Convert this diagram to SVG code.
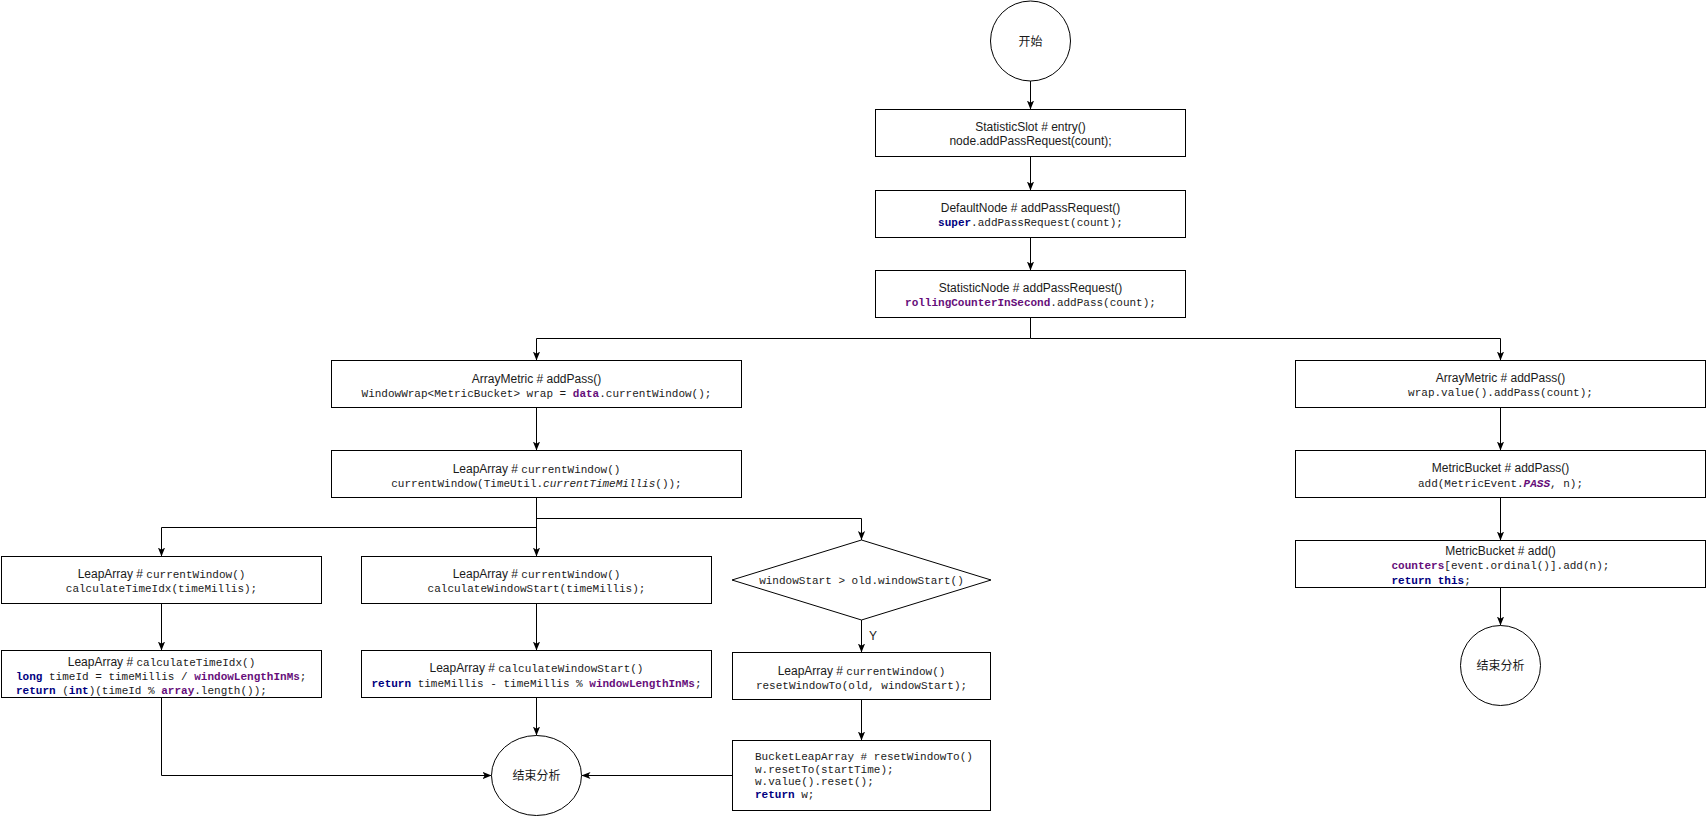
<svg xmlns="http://www.w3.org/2000/svg" width="1706" height="817" viewBox="0 0 1706 817">
<defs>
<marker id="arr" viewBox="0 0 10 10" refX="10" refY="5" markerWidth="9" markerHeight="9" markerUnits="userSpaceOnUse" orient="auto">
<path d="M0,1 L10,5 L0,9 L2.5,5 z" fill="#000"/>
</marker>
<style>
.box{fill:#fff;stroke:#000;stroke-width:1}
.sans{font-family:"Liberation Sans",Arial,sans-serif;font-size:12px;fill:#1a1a1a}
.mono{font-family:"Liberation Mono","DejaVu Sans Mono",monospace;font-size:11px;fill:#1a1a1a}
.cjk{font-family:"Noto Sans CJK SC","Liberation Sans",sans-serif;font-size:12px;fill:#1a1a1a}
.c{text-anchor:middle}
.kw{fill:#000080;font-weight:bold}
.fd{fill:#660e7a;font-weight:bold}
.it{font-style:italic}
.m{font-family:"Liberation Mono","DejaVu Sans Mono",monospace;font-size:11px}
.edge{fill:none;stroke:#000;stroke-width:1;marker-end:url(#arr)}
</style>
</defs>
<rect width="1706" height="817" fill="#fff"/>

<g id="connectors">
<path class="edge" d="M1030.5,81 V109.5"/>
<path class="edge" d="M1030.5,156.5 V190.5"/>
<path class="edge" d="M1030.5,237.5 V270.5"/>
<path class="edge" d="M1030.5,317.5 V338.5 H536.5 V360.5"/>
<path class="edge" d="M1030.5,338.5 H1500.5 V360.5"/>
<path class="edge" d="M536.5,407.5 V450.5"/>
<path class="edge" d="M536.5,497.5 V556.5"/>
<path class="edge" d="M536.5,527.5 H161.5 V556.5"/>
<path class="edge" d="M536.5,518.5 H861.5 V540"/>
<path class="edge" d="M161.5,603.5 V650.5"/>
<path class="edge" d="M536.5,603.5 V650.5"/>
<path class="edge" d="M861.5,620 V652.5"/>
<text class="sans" x="869" y="640">Y</text>
<path class="edge" d="M861.5,699.5 V740.5"/>
<path class="edge" d="M161.5,697.5 V775.5 H491.5"/>
<path class="edge" d="M536.5,697.5 V735.5"/>
<path class="edge" d="M732.5,775.5 H581.5"/>
<path class="edge" d="M1500.5,407.5 V450.5"/>
<path class="edge" d="M1500.5,497.5 V540.5"/>
<path class="edge" d="M1500.5,587.5 V625.5"/>
</g>

<g id="start">
<circle class="box" cx="1030.5" cy="41" r="40"/>
<text class="cjk c" x="1030.5" y="45.5">开始</text>
</g>

<g id="statisticSlot">
<rect class="box" x="875.5" y="109.5" width="310" height="47"/>
<text class="sans c" x="1030.5" y="131">StatisticSlot # entry()</text>
<text class="sans c" x="1030.5" y="145">node.addPassRequest(count);</text>
</g>

<g id="defaultNode">
<rect class="box" x="875.5" y="190.5" width="310" height="47"/>
<text class="sans c" x="1030.5" y="212">DefaultNode # addPassRequest()</text>
<text class="mono c" x="1030.5" y="226"><tspan class="kw">super</tspan>.addPassRequest(count);</text>
</g>

<g id="statisticNode">
<rect class="box" x="875.5" y="270.5" width="310" height="47"/>
<text class="sans c" x="1030.5" y="291.5">StatisticNode # addPassRequest()</text>
<text class="mono c" x="1030.5" y="306"><tspan class="fd">rollingCounterInSecond</tspan>.addPass(count);</text>
</g>

<g id="arrayMetricLeft">
<rect class="box" x="331.5" y="360.5" width="410" height="47"/>
<text class="sans c" x="536.5" y="382.5">ArrayMetric # addPass()</text>
<text class="mono c" x="536.5" y="396.5">WindowWrap&lt;MetricBucket&gt; wrap = <tspan class="fd">data</tspan>.currentWindow();</text>
</g>

<g id="leapCurrentWindow">
<rect class="box" x="331.5" y="450.5" width="410" height="47"/>
<text class="sans c" x="536.5" y="472.5">LeapArray # <tspan class="m">currentWindow()</tspan></text>
<text class="mono c" x="536.5" y="486.5">currentWindow(TimeUtil.<tspan class="it">currentTimeMillis</tspan>());</text>
</g>

<g id="calcTimeIdxCall">
<rect class="box" x="1.5" y="556.5" width="320" height="47"/>
<text class="sans c" x="161.5" y="577.5">LeapArray # <tspan class="m">currentWindow()</tspan></text>
<text class="mono c" x="161.5" y="592">calculateTimeIdx(timeMillis);</text>
</g>

<g id="calcTimeIdx">
<rect class="box" x="1.5" y="650.5" width="320" height="47"/>
<text class="sans c" x="161.5" y="666">LeapArray # <tspan class="m">calculateTimeIdx()</tspan></text>
<text class="mono" x="16" y="679.5"><tspan class="kw">long</tspan> timeId = timeMillis / <tspan class="fd">windowLengthInMs</tspan>;</text>
<text class="mono" x="16" y="693.5"><tspan class="kw">return</tspan> (<tspan class="kw">int</tspan>)(timeId % <tspan class="fd">array</tspan>.length());</text>
</g>

<g id="calcWindowStartCall">
<rect class="box" x="361.5" y="556.5" width="350" height="47"/>
<text class="sans c" x="536.5" y="577.5">LeapArray # <tspan class="m">currentWindow()</tspan></text>
<text class="mono c" x="536.5" y="592">calculateWindowStart(timeMillis);</text>
</g>

<g id="calcWindowStart">
<rect class="box" x="361.5" y="650.5" width="350" height="47"/>
<text class="sans c" x="536.5" y="672">LeapArray # <tspan class="m">calculateWindowStart()</tspan></text>
<text class="mono c" x="536.5" y="686.5"><tspan class="kw">return</tspan> timeMillis - timeMillis % <tspan class="fd">windowLengthInMs</tspan>;</text>
</g>

<g id="decision">
<polygon class="box" points="861.5,540 991,580 861.5,620 732,580"/>
<text class="mono c" x="861.5" y="584">windowStart &gt; old.windowStart()</text>
</g>

<g id="resetCall">
<rect class="box" x="732.5" y="652.5" width="258" height="47"/>
<text class="sans c" x="861.5" y="675">LeapArray # <tspan class="m">currentWindow()</tspan></text>
<text class="mono c" x="861.5" y="688.5">resetWindowTo(old, windowStart);</text>
</g>

<g id="bucketReset">
<rect class="box" x="732.5" y="740.5" width="258" height="70"/>
<text class="mono" x="755" y="760">BucketLeapArray # resetWindowTo()</text>
<text class="mono" x="755" y="772.5">w.resetTo(startTime);</text>
<text class="mono" x="755" y="785">w.value().reset();</text>
<text class="mono" x="755" y="797.5"><tspan class="kw">return</tspan> w;</text>
</g>

<g id="endLeft">
<ellipse class="box" cx="536.5" cy="775.5" rx="45" ry="40"/>
<text class="cjk c" x="536.5" y="780">结束分析</text>
</g>

<g id="arrayMetricRight">
<rect class="box" x="1295.5" y="360.5" width="410" height="47"/>
<text class="sans c" x="1500.5" y="382">ArrayMetric # addPass()</text>
<text class="mono c" x="1500.5" y="396">wrap.value().addPass(count);</text>
</g>

<g id="metricBucketAddPass">
<rect class="box" x="1295.5" y="450.5" width="410" height="47"/>
<text class="sans c" x="1500.5" y="472">MetricBucket # addPass()</text>
<text class="mono c" x="1500.5" y="486.5">add(MetricEvent.<tspan class="fd it">PASS</tspan>, n);</text>
</g>

<g id="metricBucketAdd">
<rect class="box" x="1295.5" y="540.5" width="410" height="47"/>
<text class="sans c" x="1500.5" y="554.5">MetricBucket # add()</text>
<text class="mono" x="1391.5" y="569"><tspan class="fd">counters</tspan>[event.ordinal()].add(n);</text>
<text class="mono" x="1391.5" y="583.5"><tspan class="kw">return this</tspan>;</text>
</g>

<g id="endRight">
<circle class="box" cx="1500.5" cy="665.5" r="40"/>
<text class="cjk c" x="1500.5" y="670">结束分析</text>
</g>
</svg>
